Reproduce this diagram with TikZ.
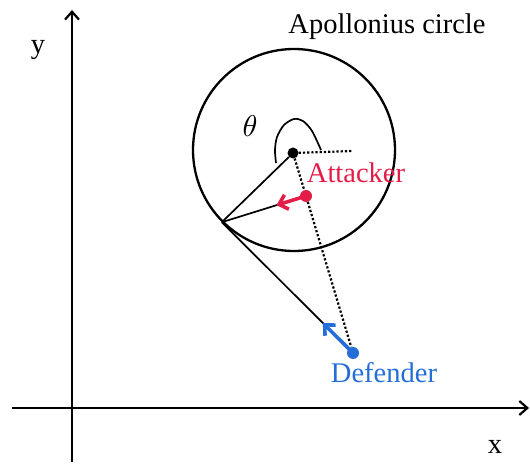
\documentclass[tikz,border=0pt]{standalone}
\usepackage{fontspec}
\setmainfont{Liberation Serif}
\usepackage{tikz}
\usetikzlibrary{arrows.meta,calc}
\definecolor{attred}{RGB}{228,28,72}
\definecolor{defblue}{RGB}{38,110,215}

\begin{document}
\begin{tikzpicture}[
    x=1pt, y=-1pt,
    lbl/.style={font=\fontsize{28.5}{31}\selectfont, inner sep=0pt},
    dot/.style={circle, fill, inner sep=0pt, minimum size=12pt},
    axis/.style={-{Straight Barb[length=8pt,width=14pt]}, line width=2.2pt},
    ray/.style={line width=1.7pt},
    guide/.style={dotted, line width=2.2pt},
    move/.style={-{Straight Barb[length=8pt,width=15pt]}, line width=3.6pt, line cap=round}
]
\useasboundingbox (0,0) rectangle (530,470);

\coordinate (ybot) at (72,462);
\coordinate (ytop) at (72,10);
\coordinate (xleft) at (12,408);
\coordinate (xright) at (529,408);
\draw[axis] (ybot) -- (ytop);
\draw[axis] (xleft) -- (xright);
\node[lbl, anchor=base] (ylbl) at (38,54) {y};
\node[lbl, anchor=base] (xlbl) at (495,453) {x};

\node[draw, circle, line width=2.3pt, inner sep=0pt, minimum size=202pt] (apol) at (294,150) {};
\node[lbl, anchor=base] (apollbl) at (387,34) {Apollonius circle};
\coordinate (meet) at (apol.225);

\node[dot, minimum size=11pt] (ctr) at (293,153) {};
\node[dot, attred] (att) at (306,196) {};
\node[dot, defblue] (def) at (353,353) {};
\coordinate (ref) at (353,151);
\coordinate (atip) at ($(att)!0.35!(meet)$);
\coordinate (dtip) at ($(def)!0.23!(meet)$);

\draw[guide] (ctr) -- (ref);
\draw[guide] (ctr) -- (att) -- (def);
\draw[ray] (ctr) -- (meet);
\draw[ray] (meet) -- (att);
\draw[ray] (meet) -- (def);
\draw[move, attred] (att.center) -- (atip);
\draw[move, defblue] (def.center) -- (dtip);

\draw[ray] plot[smooth] coordinates {(321,150) (312,131) (303,121) (294,119) (284,125) (277,137) (275,150) (276,163)};
\node[scale=3] (theta) at (250,126) {$\theta$};

\node[lbl, text=attred, anchor=base] (attlbl) at (356,183) {Attacker};
\node[lbl, text=defblue, anchor=base] (deflbl) at (384,382) {Defender};
\end{tikzpicture}
\end{document}
